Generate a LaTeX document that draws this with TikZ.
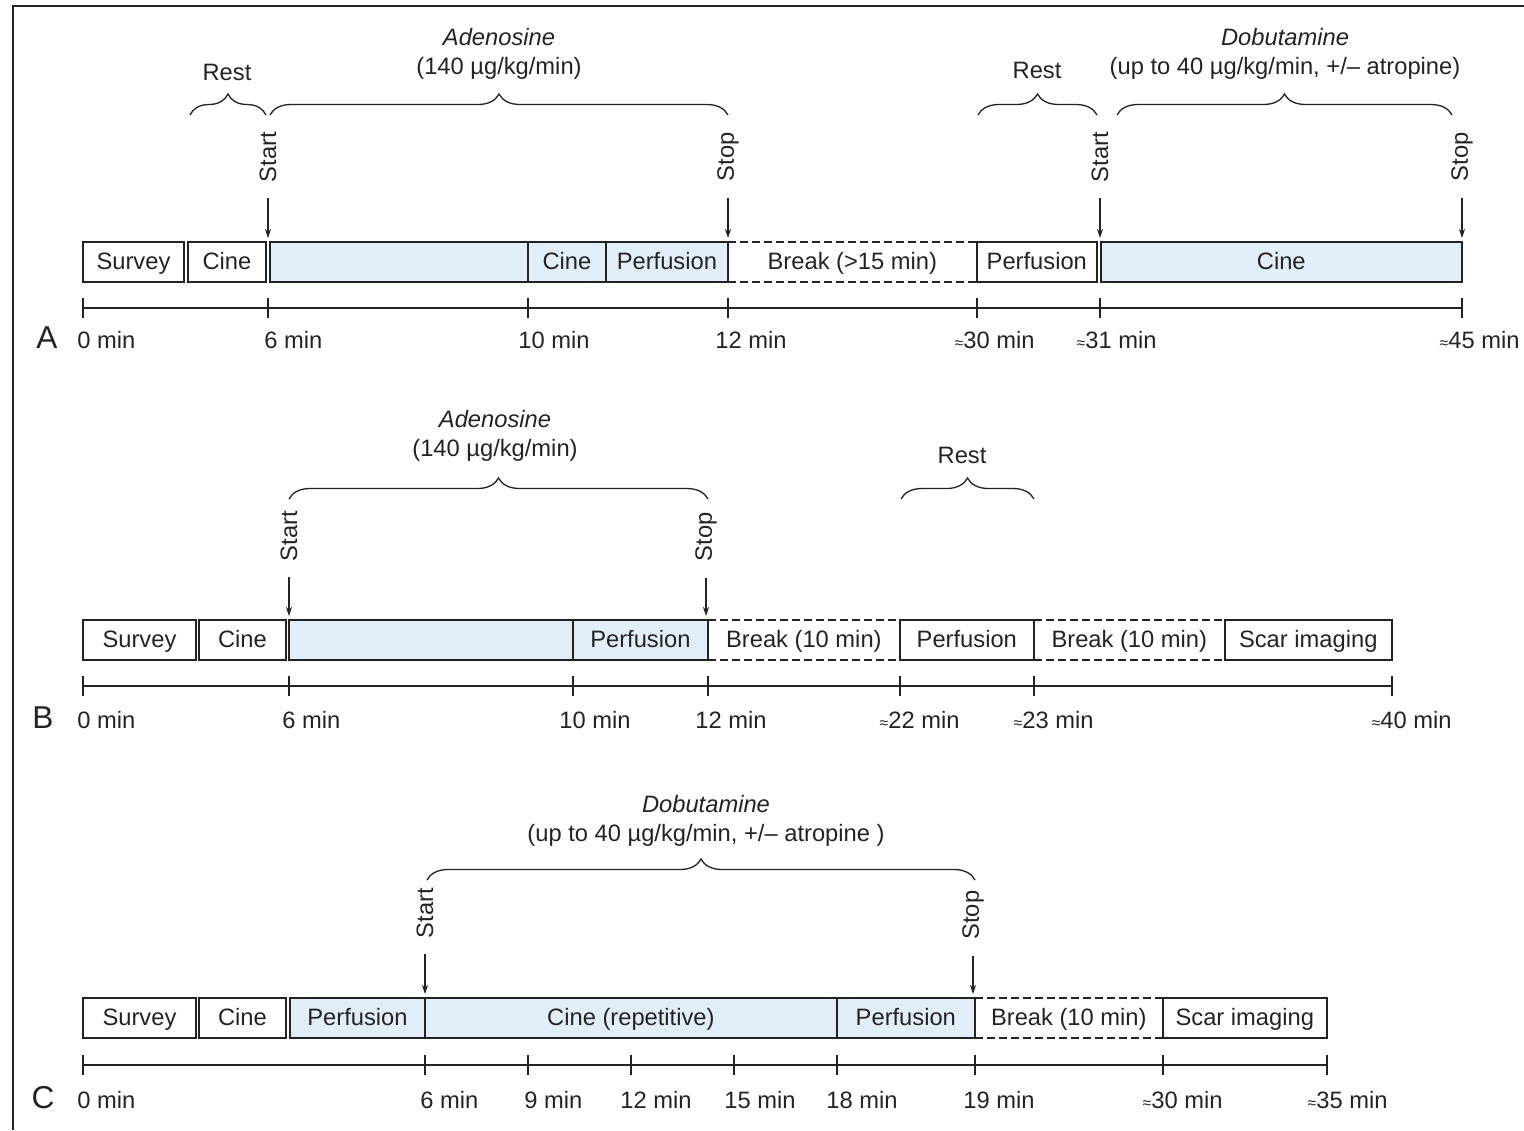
\documentclass[tikz,border=0pt]{standalone}
\usepackage{fontspec}
\setmainfont{Liberation Sans}
\usetikzlibrary{arrows.meta, positioning, decorations.pathreplacing}

\definecolor{stressblue}{RGB}{226,238,247}
\definecolor{inkgray}{RGB}{35,35,35}
\newcommand{\approxs}{{\fontsize{9}{9}\selectfont ≈}}

\begin{document}
\begin{tikzpicture}[x=0.02cm, y=-0.02cm,
                every node/.style={font=\fontsize{13.5}{16.4}\selectfont, text=inkgray},
                box/.style={draw=inkgray, line width=1.1pt, minimum height=0.8cm,
                           text height=9.7pt, text depth=0.7pt,
                           inner sep=0pt, outer sep=0pt, anchor=west},
                stress/.style={box, fill=stressblue},
                pause/.style={minimum height=0.8cm, text height=9.7pt, text depth=0.7pt,
                             inner sep=0pt, outer sep=0pt, anchor=west},
                dashline/.style={draw=inkgray, line width=1pt, dash pattern=on 0.16cm off 0.08cm},
                axis/.style={draw=inkgray, line width=0.9pt},
                arrow/.style={-{Stealth[length=1.8mm, width=1.2mm]}, draw=inkgray, line width=0.6pt,
                             shorten <=0.2cm, shorten >=0.08cm},
                cue/.style={rotate=90},
                curly/.style={draw=inkgray, line width=0.75pt, decorate,
                             decoration={brace, amplitude=0.42cm}},
                drug/.style={align=center},
                panel/.style={font=\fontsize{18}{20}\selectfont}]

                \useasboundingbox (0,0) rectangle (1524,1130);

                % frame
                \draw[draw=inkgray, line width=1.2pt] (13,1130) -- (13,6) -- (1524,6);

                % ---------------- A ----------------
                \node[box, minimum width=2.02cm] (surveyA) at (83,262) {Survey};
                \node[box, minimum width=1.56cm, right=0.08cm of surveyA] (cineA) {Cine};
                \node[stress, minimum width=5.16cm, right=0.08cm of cineA] (adenoA) {};
                \node[stress, minimum width=1.56cm, right=0pt of adenoA] (cine2A) {Cine};
                \node[stress, minimum width=2.44cm, right=0pt of cine2A] (perfA) {Perfusion};
                \node[pause, minimum width=4.98cm, right=0pt of perfA] (breakA) {Break (>15 min)};
                \node[box, minimum width=2.40cm, right=0pt of breakA] (perf2A) {Perfusion};
                \node[stress, minimum width=7.22cm, right=0.08cm of perf2A] (cine3A) {Cine};
                \draw[dashline] (breakA.north west) -- (breakA.north east);
                \draw[dashline] (breakA.south west) -- (breakA.south east);

                % time axis A
                \draw[axis] (83,308) -- (1462,308);
                \foreach \x in {83,268,528,728,977,1100,1462}
                    \draw[axis] (\x,298) -- (\x,318);
                \foreach \x/\t in {77/0 min, 264/6 min, 518/10 min, 715/12 min,
                                   963/\llap{\approxs}30 min, 1085/\llap{\approxs}31 min,
                                   1448/\llap{\approxs}45 min}
                    \node[anchor=west, inner sep=0pt] at (\x,340) {\t};
                \node[panel] (labA) at (47,338) {A};

                % start / stop A
                \node[cue] (startA) at (268,157) {Start};
                \node[cue] (stopA) at (728,157) {Stop};
                \node[cue] (start2A) at (1100,157) {Start};
                \node[cue] (stop2A) at (1462,157) {Stop};
                \draw[arrow] (startA.west) -- (startA.west |- adenoA.north);
                \draw[arrow] (stopA.west) -- (stopA.west |- perfA.north);
                \draw[arrow] (start2A.west) -- (start2A.west |- cine3A.north);
                \draw[arrow] (stop2A.west) -- (stop2A.west |- cine3A.north);

                % braces A
                \draw[curly] (190,115) -- (266,115);
                \draw[curly] (270,115) -- (728,115);
                \draw[curly] (978,115) -- (1097,115);
                \draw[curly] (1117,115) -- (1452,115);
                \node (restA) at (227,72) {Rest};
                \node[drug] (adenoTxtA) at (499,54) {\textit{Adenosine}\\(140 µg/kg/min)};
                \node (rest2A) at (1037,70) {Rest};
                \node[drug] (dobuTxtA) at (1285,54) {\textit{Dobutamine}\\(up to 40 µg/kg/min, +/– atropine)};

                % ---------------- B ----------------
                \node[box, minimum width=2.26cm] (surveyB) at (83,640) {Survey};
                \node[box, minimum width=1.74cm, right=0.06cm of surveyB] (cineB) {Cine};
                \node[stress, minimum width=5.68cm, right=0.06cm of cineB] (adenoB) {};
                \node[stress, minimum width=2.70cm, right=0pt of adenoB] (perfB) {Perfusion};
                \node[pause, minimum width=3.84cm, right=0pt of perfB] (breakB) {Break (10 min)};
                \node[box, minimum width=2.68cm, right=0pt of breakB] (perf2B) {Perfusion};
                \node[pause, minimum width=3.82cm, right=0pt of perf2B] (break2B) {Break (10 min)};
                \node[box, minimum width=3.34cm, right=0pt of break2B] (scarB) {Scar imaging};
                \foreach \b in {breakB, break2B} {
                    \draw[dashline] (\b.north west) -- (\b.north east);
                    \draw[dashline] (\b.south west) -- (\b.south east);
                }

                % time axis B
                \draw[axis] (83,686) -- (1392,686);
                \foreach \x in {83,289,573,708,900,1034,1392}
                    \draw[axis] (\x,676) -- (\x,696);
                \foreach \x/\t in {77/0 min, 282/6 min, 559/10 min, 695/12 min,
                                   888/\llap{\approxs}22 min, 1022/\llap{\approxs}23 min,
                                   1380/\llap{\approxs}40 min}
                    \node[anchor=west, inner sep=0pt] at (\x,720) {\t};
                \node[panel] (labB) at (43,718) {B};

                % start / stop B
                \node[cue] (startB) at (289,536) {Start};
                \node[cue] (stopB) at (706,537) {Stop};
                \draw[arrow] (startB.west) -- (startB.west |- adenoB.north);
                \draw[arrow] (stopB.west) -- (stopB.west |- perfB.north);

                % braces B
                \draw[curly] (289,499) -- (708,499);
                \draw[curly] (901,499) -- (1034,499);
                \node[drug] (adenoTxtB) at (495,436) {\textit{Adenosine}\\(140 µg/kg/min)};
                \node (restB) at (962,455) {Rest};

                % ---------------- C ----------------
                \node[box, minimum width=2.26cm] (surveyC) at (83,1018) {Survey};
                \node[box, minimum width=1.74cm, right=0.06cm of surveyC] (cineC) {Cine};
                \node[stress, minimum width=2.70cm, right=0.08cm of cineC] (perfC) {Perfusion};
                \node[stress, minimum width=8.24cm, right=0pt of perfC] (cineRepC) {Cine (repetitive)};
                \node[stress, minimum width=2.76cm, right=0pt of cineRepC] (perf2C) {Perfusion};
                \node[pause, minimum width=3.76cm, right=0pt of perf2C] (breakC) {Break (10 min)};
                \node[box, minimum width=3.28cm, right=0pt of breakC] (scarC) {Scar imaging};
                \draw[dashline] (breakC.north west) -- (breakC.north east);
                \draw[dashline] (breakC.south west) -- (breakC.south east);

                % time axis C
                \draw[axis] (83,1065) -- (1327,1065);
                \foreach \x in {83,425,528,631,734,837,975,1163,1327}
                    \draw[axis] (\x,1055) -- (\x,1075);
                \foreach \x/\t in {77/0 min, 420/6 min, 524/9 min, 620/12 min, 724/15 min,
                                   826/18 min, 963/19 min, 1151/\llap{\approxs}30 min,
                                   1316/\llap{\approxs}35 min}
                    \node[anchor=west, inner sep=0pt] at (\x,1100) {\t};
                \node[panel] (labC) at (43,1098) {C};

                % start / stop C
                \node[cue] (startC) at (425,913) {Start};
                \node[cue] (stopC) at (973,915) {Stop};
                \draw[arrow] (startC.west) -- (startC.west |- cineRepC.north);
                \draw[arrow] (stopC.west) -- (stopC.west |- perf2C.north);

                % brace C
                \draw[curly] (427,880) -- (975,880);
                \node[drug] (dobuTxtC) at (706,821) {\textit{Dobutamine}\\(up to 40 µg/kg/min, +/– atropine )};
            \end{tikzpicture}
\end{document}
